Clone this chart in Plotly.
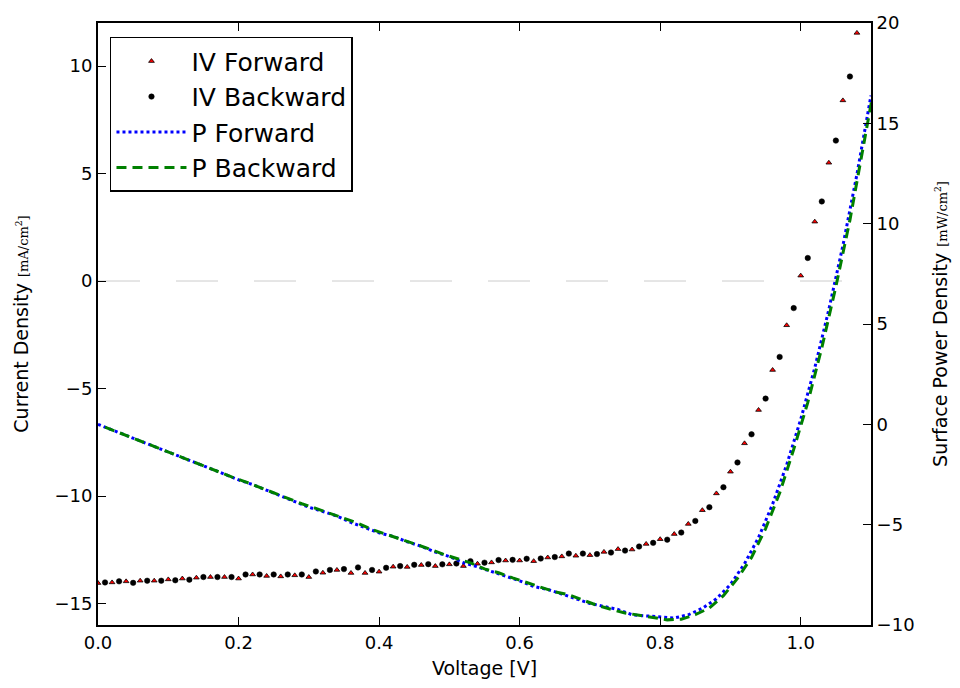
import plotly.graph_objects as go

# Forward scan: voltage [V] and current density [mA/cm^2]
v_forward = [0.00, 0.02, 0.04, 0.06, 0.08, 0.10, 0.12, 0.14, 0.16, 0.18,
             0.20, 0.22, 0.24, 0.26, 0.28, 0.30, 0.32, 0.34, 0.36, 0.38,
             0.40, 0.42, 0.44, 0.46, 0.48, 0.50, 0.52, 0.54, 0.56, 0.58,
             0.60, 0.62, 0.64, 0.66, 0.68, 0.70, 0.72, 0.74, 0.76, 0.78,
             0.80, 0.82, 0.84, 0.86, 0.88, 0.90, 0.92, 0.94, 0.96, 0.98,
             1.00, 1.02, 1.04, 1.06, 1.08, 1.10]
j_forward = [-14.05, -14.02, -13.97, -13.94, -13.94, -13.88, -13.84, -13.80, -13.77, -13.77,
             -13.84, -13.65, -13.72, -13.74, -13.69, -13.77, -13.57, -13.44, -13.58, -13.58,
             -13.52, -13.29, -13.30, -13.21, -13.26, -13.18, -13.26, -13.15, -13.09, -13.00,
             -13.00, -13.03, -12.86, -12.81, -12.78, -12.75, -12.60, -12.47, -12.49, -12.23,
             -12.01, -11.77, -11.30, -10.66, -9.88, -8.87, -7.55, -6.00, -4.14, -2.06,
             0.25, 2.76, 5.50, 8.40, 11.54, 14.90]

# Backward scan: voltage [V] and current density [mA/cm^2]
v_backward = [0.01, 0.03, 0.05, 0.07, 0.09, 0.11, 0.13, 0.15, 0.17, 0.19,
              0.21, 0.23, 0.25, 0.27, 0.29, 0.31, 0.33, 0.35, 0.37, 0.39,
              0.41, 0.43, 0.45, 0.47, 0.49, 0.51, 0.53, 0.55, 0.57, 0.59,
              0.61, 0.63, 0.65, 0.67, 0.69, 0.71, 0.73, 0.75, 0.77, 0.79,
              0.81, 0.83, 0.85, 0.87, 0.89, 0.91, 0.93, 0.95, 0.97, 0.99,
              1.01, 1.03, 1.05, 1.07, 1.09, 1.11]
j_backward = [-14.02, -13.97, -14.04, -13.94, -13.94, -13.92, -13.89, -13.77, -13.77, -13.77,
              -13.65, -13.65, -13.65, -13.65, -13.65, -13.51, -13.44, -13.40, -13.32, -13.44,
              -13.34, -13.26, -13.20, -13.17, -13.18, -13.14, -13.03, -13.10, -12.98, -12.97,
              -12.92, -12.91, -12.84, -12.68, -12.68, -12.70, -12.63, -12.54, -12.35, -12.18,
              -12.03, -11.70, -11.16, -10.52, -9.59, -8.44, -7.13, -5.47, -3.53, -1.26,
              1.07, 3.70, 6.53, 9.51, 12.80, 16.10]

# Surface power density [mW/cm^2] = V * J
p_forward = [v * j for v, j in zip(v_forward, j_forward)]
p_backward = [v * j for v, j in zip(v_backward, j_backward)]

x_range = [0, 1.1]
j_range = [-16, 12]
p_range = [-10, 20]

FONT = "DejaVu Sans"

fig = go.Figure()

fig.add_trace(go.Scatter(
    x=v_forward, y=j_forward, mode="markers", name="IV Forward",
    marker=dict(symbol="triangle-up", size=5, color="#ff0000",
                line=dict(color="black", width=0.8)),
    yaxis="y",
))
fig.add_trace(go.Scatter(
    x=v_backward, y=j_backward, mode="markers", name="IV Backward",
    marker=dict(symbol="circle", size=5.5, color="black",
                line=dict(color="black", width=0.5)),
    yaxis="y",
))
fig.add_trace(go.Scatter(
    x=v_forward, y=p_forward, mode="lines", name="P Forward",
    line=dict(color="#0000ff", width=3, dash="3px,3px"),
    yaxis="y2",
))
fig.add_trace(go.Scatter(
    x=v_backward, y=p_backward, mode="lines", name="P Backward",
    line=dict(color="#008000", width=3, dash="10px,6px"),
    yaxis="y2",
))

# Light dashed reference line at zero current density
fig.add_shape(type="line", xref="paper", yref="y", x0=0, x1=1, y0=0, y1=0,
              line=dict(color="#cccccc", width=1, dash="42px,36px"), layer="below")

axis_common = dict(
    showgrid=False, zeroline=False, showline=True, linecolor="black", linewidth=2,
    ticks="inside", ticklen=8, tickwidth=1, tickcolor="black",
    tickfont=dict(family=FONT, size=18, color="black"),
)

fig.update_layout(
    width=960, height=688,
    margin=dict(l=98, r=88, t=19, b=62),
    paper_bgcolor="white", plot_bgcolor="white",
    font=dict(family=FONT, size=18, color="black"),
    xaxis=dict(
        range=x_range, dtick=0.2, tick0=0, tickformat=".1f", mirror="ticks",
        title=dict(text="Voltage [V]", font=dict(family=FONT, size=19), standoff=10),
        **axis_common,
    ),
    yaxis=dict(
        range=j_range, dtick=5, tick0=0, side="left",
        title=dict(
            text="Current Density <span style='font-family:DejaVu Serif;font-size:13px'>[mA/cm<sup>2</sup>]</span>",
            font=dict(family=FONT, size=19), standoff=21),
        **axis_common,
    ),
    yaxis2=dict(
        range=p_range, dtick=5, tick0=0, side="right", overlaying="y",
        title=dict(
            text="Surface Power Density <span style='font-family:DejaVu Serif;font-size:13px'>[mW/cm<sup>2</sup>]</span>",
            font=dict(family=FONT, size=19), standoff=20),
        **axis_common,
    ),
    legend=dict(
        x=0.0155, y=0.977, xanchor="left", yanchor="top",
        bgcolor="white", bordercolor="black", borderwidth=1.5,
        font=dict(family=FONT, size=25, color="black"),
        itemwidth=70,
    ),
    showlegend=True,
)

fig.write_html("out.html")
